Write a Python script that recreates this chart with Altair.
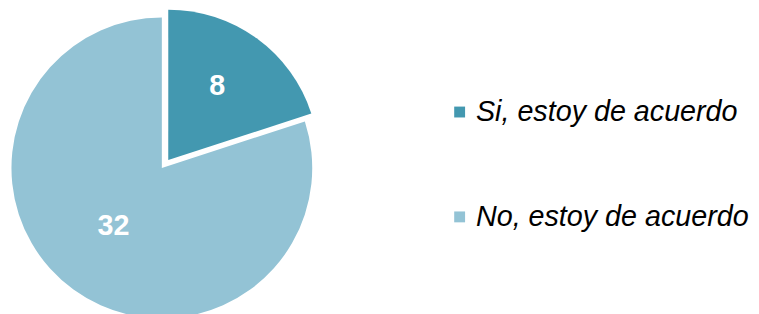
import altair as alt
import pandas as pd
import math

categories = ["Si, estoy de acuerdo", "No, estoy de acuerdo"]
values = [8, 32]
colors = ["#4398B0", "#93C3D5"]

df = pd.DataFrame({"cat": categories, "value": values, "order": [0, 1]})

theta_scale = alt.Scale(domain=[0, sum(values)], range=[0, 2 * math.pi])
color_scale = alt.Scale(domain=categories, range=colors)

base = alt.Chart(df).transform_window(
    t1="sum(value)", sort=[alt.SortField("order")]
).transform_calculate(
    t0="datum.t1 - datum.value", tm="datum.t1 - datum.value/2"
)

R = 152
# main pie centre (plot coords)
cx, cy = 155.5, 159
# exploded slice centre
ex, ey = 162, 151

big = base.transform_filter(alt.datum.cat == categories[1]).mark_arc(radius=R).encode(
    x=alt.value(cx), y=alt.value(cy),
    theta=alt.Theta("t0:Q", scale=theta_scale),
    theta2="t1:Q",
    color=alt.Color("cat:N", scale=color_scale, sort=categories,
                    legend=alt.Legend(title=None, orient="none", legendX=442, legendY=88,
                                      symbolType="square", symbolSize=121, symbolStrokeWidth=0,
                                      labelFontSize=29, labelFont="Liberation Sans",
                                      labelFontStyle="italic", labelColor="#000000",
                                      labelLimit=0, labelOffset=2, rowPadding=76, padding=0)),
)
small = base.transform_filter(alt.datum.cat == categories[0]).mark_arc(radius=R).encode(
    x=alt.value(ex), y=alt.value(ey),
    theta=alt.Theta("t0:Q", scale=theta_scale),
    theta2="t1:Q",
    color=alt.Color("cat:N", scale=color_scale, sort=categories),
)
big_txt = base.transform_filter(alt.datum.cat == categories[1]).mark_text(
    radius=78, font="Liberation Sans", fontWeight="bold", fontSize=29, color="white",
    dx=-3, dy=-4
).encode(
    x=alt.value(cx), y=alt.value(cy),
    theta=alt.Theta("tm:Q", scale=theta_scale),
    text="value:Q",
)
small_txt = base.transform_filter(alt.datum.cat == categories[0]).mark_text(
    radius=86, font="Liberation Sans", fontWeight="bold", fontSize=29, color="white",
    dx=-1, dy=-5
).encode(
    x=alt.value(ex), y=alt.value(ey),
    theta=alt.Theta("tm:Q", scale=theta_scale),
    text="value:Q",
)

chart = alt.layer(big, small, big_txt, small_txt).properties(
    width=751, height=306, padding=0,
    autosize=alt.AutoSizeParams(type="fit", contains="padding"),
).configure_view(stroke=None)

chart.save("out.html", embed_options={"renderer": "svg", "actions": False})
